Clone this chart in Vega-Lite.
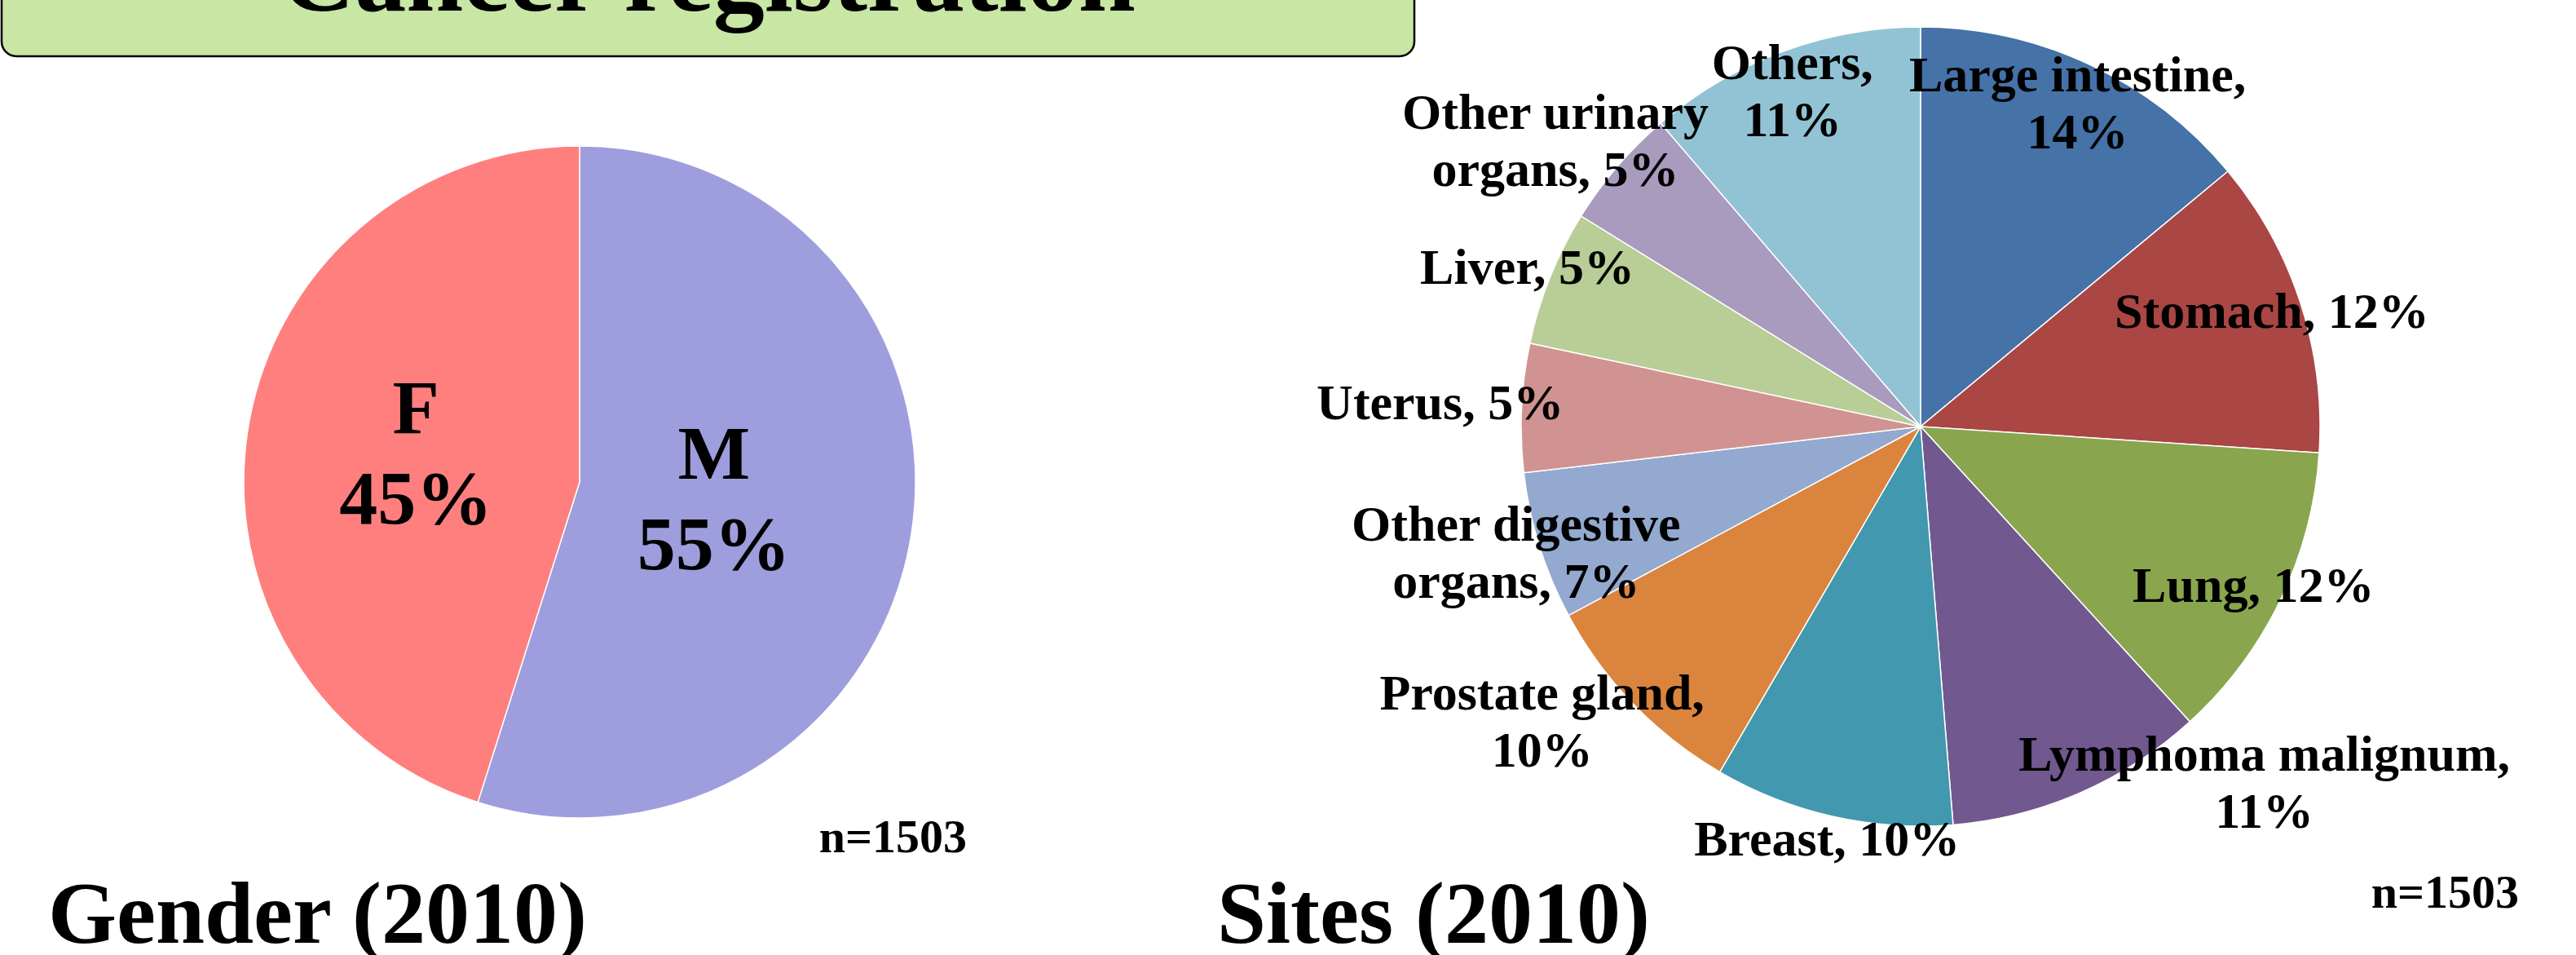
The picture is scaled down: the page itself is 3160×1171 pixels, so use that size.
{
  "$schema": "https://vega.github.io/schema/vega-lite/v6.json",
  "background": "white",
  "padding": {"top": -144, "left": 0, "right": 0, "bottom": 0},
  "autosize": {"type": "pad"},
  "config": {"view": {"stroke": null}, "font": "Liberation Serif"},
  "spacing": 0,
  "bounds": "flush",
  "vconcat": [
    {
      "width": 1733,
      "height": 86,
      "view": {"fill": "#C8E6A4", "stroke": "black", "strokeWidth": 2.5, "cornerRadius": 18},
      "data": {"values": [{"heading": "Cancer registration"}]},
      "mark": {"type": "text", "clip": true, "fontSize": 126, "fontWeight": "bold", "font": "Liberation Serif", "baseline": "alphabetic", "align": "center", "dy": -13, "fill": "black"},
      "encoding": {"text": {"field": "heading", "type": "nominal"}}
    },
    {
      "spacing": 0,
      "bounds": "flush",
      "resolve": {"scale": {"color": "independent", "theta": "independent"}},
      "hconcat": [
        {
          "width": 1418,
          "height": 1044,
          "title": {"text": "Gender (2010)", "orient": "bottom", "anchor": "start", "frame": "group", "baseline": "alphabetic", "offset": 43, "dx": 57, "fontSize": 108, "fontWeight": "bold", "font": "Liberation Serif", "color": "black"},
          "layer": [
            {
              "data": {"values": [
                {"sex": "M", "pct": 54.9, "label": "M\n55%"},
                {"sex": "F", "pct": 45.1, "label": "F\n45%"}
              ]},
              "transform": [{"window": [{"op": "row_number", "as": "i"}]}],
              "layer": [
                {
                  "mark": {"type": "arc", "outerRadius": 412, "stroke": "white", "strokeWidth": 1.5},
                  "encoding": {
                    "theta": {"field": "pct", "type": "quantitative", "stack": true},
                    "order": {"field": "i", "type": "quantitative"},
                    "color": {"field": "sex", "type": "nominal", "scale": {"domain": ["M", "F"], "range": ["#9E9EDE", "#FF7F7F"]}, "legend": null}
                  }
                },
                {
                  "mark": {"type": "text", "radius": 185, "dx": -18, "dy": -60, "fontSize": 94, "fontWeight": "bold", "font": "Liberation Serif", "lineBreak": "\n", "lineHeight": 111, "align": "center", "baseline": "middle", "fill": "black"},
                  "encoding": {
                    "theta": {"field": "pct", "type": "quantitative", "stack": true},
                    "order": {"field": "i", "type": "quantitative"},
                    "detail": {"field": "sex", "type": "nominal"},
                    "text": {"field": "label", "type": "nominal"}
                  }
                }
              ]
            },
            {
              "data": {"values": [{"note": "n=1503"}]},
              "mark": {"type": "text", "align": "right", "baseline": "alphabetic", "dx": 475, "dy": 454, "fontSize": 58, "fontWeight": "bold", "font": "Liberation Serif", "fill": "black"},
              "encoding": {"text": {"field": "note", "type": "nominal"}}
            }
          ]
        },
        {
          "width": 1872,
          "height": 908,
          "layer": [
            {
              "data": {"values": [
                {"site": "Large intestine", "pct": 14.0, "label": "Large intestine,\n14%"},
                {"site": "Stomach", "pct": 12.1, "label": "Stomach, 12%"},
                {"site": "Lung", "pct": 12.2, "label": "Lung, 12%"},
                {"site": "Lymphoma malignum", "pct": 10.5, "label": "Lymphoma malignum,\n11%"},
                {"site": "Breast", "pct": 9.7, "label": "Breast, 10%"},
                {"site": "Prostate gland", "pct": 8.8, "label": "Prostate gland,\n10%"},
                {"site": "Other digestive organs", "pct": 6.0, "label": "Other digestive\norgans, 7%"},
                {"site": "Uterus", "pct": 5.2, "label": "Uterus, 5%"},
                {"site": "Liver", "pct": 5.5, "label": "Liver, 5%"},
                {"site": "Other urinary organs", "pct": 4.9, "label": "Other urinary\norgans, 5%"},
                {"site": "Others", "pct": 11.3, "label": "Others,\n11%"}
              ]},
              "transform": [{"window": [{"op": "row_number", "as": "i"}]}],
              "encoding": {
                "theta": {"field": "pct", "type": "quantitative", "stack": true},
                "order": {"field": "i", "type": "quantitative"}
              },
              "layer": [
                {
                  "mark": {"type": "arc", "outerRadius": 490, "stroke": "white", "strokeWidth": 1.5},
                  "encoding": {
                    "color": {"field": "site", "type": "nominal", "legend": null, "scale": {
                      "domain": ["Large intestine", "Stomach", "Lung", "Lymphoma malignum", "Breast", "Prostate gland", "Other digestive organs", "Uterus", "Liver", "Other urinary organs", "Others"],
                      "range": ["#4572A7", "#AA4643", "#89A54E", "#71588F", "#4198AF", "#DB843D", "#93A9CF", "#D19392", "#B9CD96", "#A99BBD", "#92C3D5"]
                    }}
                  }
                },
                {
                  "mark": {"type": "text", "radius": 453, "fontSize": 62, "fontWeight": "bold", "font": "Liberation Serif", "lineBreak": "\n", "lineHeight": 70, "align": "center", "baseline": "middle", "fill": "black"},
                  "encoding": {
                    "detail": {"field": "site", "type": "nominal"},
                    "text": {"condition": {"test": "indexof(['Stomach','Lung'], datum.site) >= 0", "field": "label", "type": "nominal"}, "value": ""}
                  }
                },
                {
                  "mark": {"type": "text", "radius": 453, "dy": -20, "fontSize": 62, "fontWeight": "bold", "font": "Liberation Serif", "lineBreak": "\n", "lineHeight": 70, "align": "center", "baseline": "middle", "fill": "black"},
                  "encoding": {
                    "detail": {"field": "site", "type": "nominal"},
                    "text": {"condition": {"test": "indexof(['Large intestine','Others'], datum.site) >= 0", "field": "label", "type": "nominal"}, "value": ""}
                  }
                },
                {
                  "mark": {"type": "text", "radius": 520, "fontSize": 62, "fontWeight": "bold", "font": "Liberation Serif", "lineBreak": "\n", "lineHeight": 70, "align": "center", "baseline": "middle", "fill": "black"},
                  "encoding": {
                    "detail": {"field": "site", "type": "nominal"},
                    "text": {"condition": {"test": "indexof(['Breast','Liver'], datum.site) >= 0", "field": "label", "type": "nominal"}, "value": ""}
                  }
                },
                {
                  "mark": {"type": "text", "radius": 520, "dy": -35, "fontSize": 62, "fontWeight": "bold", "font": "Liberation Serif", "lineBreak": "\n", "lineHeight": 70, "align": "center", "baseline": "middle", "fill": "black"},
                  "encoding": {
                    "detail": {"field": "site", "type": "nominal"},
                    "text": {"condition": {"test": "indexof(['Other digestive organs'], datum.site) >= 0", "field": "label", "type": "nominal"}, "value": ""}
                  }
                },
                {
                  "mark": {"type": "text", "radius": 520, "dx": 214, "dy": -74, "fontSize": 62, "fontWeight": "bold", "font": "Liberation Serif", "lineBreak": "\n", "lineHeight": 70, "align": "center", "baseline": "middle", "fill": "black"},
                  "encoding": {
                    "detail": {"field": "site", "type": "nominal"},
                    "text": {"condition": {"test": "indexof(['Lymphoma malignum'], datum.site) >= 0", "field": "label", "type": "nominal"}, "value": ""}
                  }
                },
                {
                  "mark": {"type": "text", "radius": 590, "fontSize": 62, "fontWeight": "bold", "font": "Liberation Serif", "lineBreak": "\n", "lineHeight": 70, "align": "center", "baseline": "middle", "fill": "black"},
                  "encoding": {
                    "detail": {"field": "site", "type": "nominal"},
                    "text": {"condition": {"test": "indexof(['Uterus','Other urinary organs'], datum.site) >= 0", "field": "label", "type": "nominal"}, "value": ""}
                  }
                },
                {
                  "mark": {"type": "text", "radius": 590, "dx": -40, "dy": -82, "fontSize": 62, "fontWeight": "bold", "font": "Liberation Serif", "lineBreak": "\n", "lineHeight": 70, "align": "center", "baseline": "middle", "fill": "black"},
                  "encoding": {
                    "detail": {"field": "site", "type": "nominal"},
                    "text": {"condition": {"test": "indexof(['Prostate gland'], datum.site) >= 0", "field": "label", "type": "nominal"}, "value": ""}
                  }
                }
              ]
            },
            {
              "data": {"values": [{"note": "n=1503", "heading": "Sites (2010)"}]},
              "layer": [
                {
                  "mark": {"type": "text", "align": "right", "baseline": "alphabetic", "dx": 734, "dy": 590, "fontSize": 58, "fontWeight": "bold", "font": "Liberation Serif", "fill": "black"},
                  "encoding": {"text": {"field": "note", "type": "nominal"}}
                },
                {
                  "mark": {"type": "text", "align": "left", "baseline": "alphabetic", "dx": -863, "dy": 633, "fontSize": 108, "fontWeight": "bold", "font": "Liberation Serif", "fill": "black"},
                  "encoding": {"text": {"field": "heading", "type": "nominal"}}
                }
              ]
            }
          ]
        }
      ]
    }
  ]
}
